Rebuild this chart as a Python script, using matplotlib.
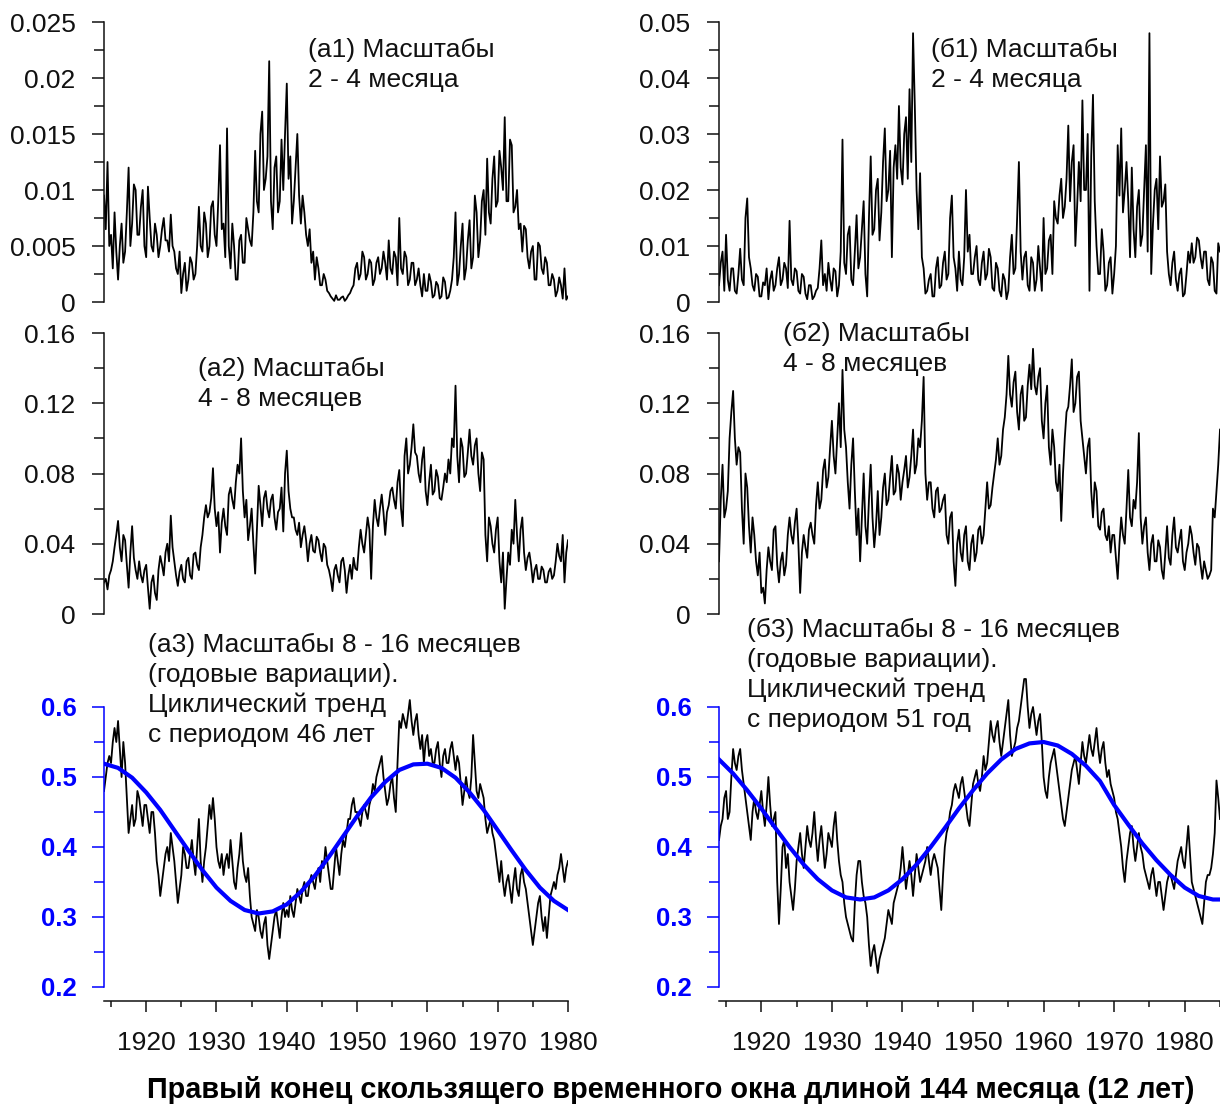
import numpy as np
import matplotlib
matplotlib.use('Agg')
import matplotlib.pyplot as plt
from matplotlib.ticker import MultipleLocator, FixedLocator, FuncFormatter

plt.rcParams['font.family'] = ['Liberation Sans', 'DejaVu Sans']

# quarter-year readings; left column 1914-1980, right column 1914-1985
# (а1), (б1), (а2), (б2) are in units of 1e-3
a1 = [9.5, 6.5, 12.5, 5, 6, 3, 8, 4.5, 2, 5, 7, 3.5,
      4.5, 8, 12, 5, 7, 10.5, 10, 6, 6, 8.5, 10, 5,
      4, 10.3, 7.5, 5, 4.5, 7, 6, 4, 5, 6.5, 7.5, 5.5,
      5.5, 4.5, 7.8, 5, 4.5, 3, 2.5, 4.5, 0.8, 2.5, 3.5, 1,
      2, 4, 3.5, 2, 2.5, 5, 8.5, 5, 4.5, 8, 7, 4,
      5, 8.5, 9, 6, 5, 9, 14, 6.5, 7, 4, 15.5, 5,
      3, 7, 5, 2, 2, 5.5, 6, 3.5, 3.5, 7.5, 6.5, 5.5,
      5, 8, 13.5, 9, 8, 15, 17, 10, 11, 13, 21.5, 9,
      6.5, 12, 13, 8, 9, 14.5, 10, 15, 19.5, 11, 13, 7,
      9, 12, 15, 9.5, 7, 9.5, 8, 6, 5, 6.5, 3.5, 4.5,
      2, 4, 3, 1.5, 1.5, 2.5, 2, 1, 0.8, 0.5, 0.3, 0.1,
      0.6, 0.2, 0.2, 0.4, 0.5, 0.1, 0.3, 0.6, 0.8, 1.2, 1.5, 3,
      3.5, 2, 2.5, 4.5, 4, 2, 2.5, 3.8, 3.5, 1.5, 2, 3.5,
      4, 2.5, 3, 4.5, 3.5, 2, 5.5, 3, 2.5, 4.5, 4, 1.5,
      7.5, 3, 2.5, 4.5, 4, 1.5, 2, 3.5, 3.5, 1.5, 2, 3,
      1.5, 0.5, 2.5, 1, 1, 2.5, 1.8, 0.4, 0.6, 1.8, 1.5, 0.3,
      0.5, 2.2, 1.8, 0.3, 0.4, 1, 2, 4, 8, 1.5, 2.5, 5,
      7, 2, 3, 5.5, 7.3, 3, 4, 9.5, 8, 4, 5.5, 9,
      10, 6, 12.8, 8, 7, 11, 13, 8.5, 9, 13.5, 12, 10,
      16.5, 9, 9, 14.5, 14, 8, 8.5, 10, 6.5, 7, 4.5, 6.8,
      6.5, 4, 3, 4.5, 5, 2, 2, 5.3, 5, 3, 2.5, 4,
      3.5, 1.5, 1.5, 2.5, 2, 0.5, 1, 2.2, 1.5, 0.3, 3, 0.2,
      0.5]

b1 = [3, 7, 9, 2, 12, 4, 2, 6, 6, 2, 1.5, 5,
      9.5, 4, 3, 15, 18.5, 8, 6, 3, 2, 5, 4.5, 1,
      1, 3.5, 3, 6, 0.5, 4, 5.5, 2, 3, 6, 8, 3,
      4, 7, 6, 2.5, 14.5, 4, 3, 6, 5.5, 2, 1.5, 5,
      4.5, 1.5, 0.5, 3, 3, 0.5, 1, 2, 2.5, 6, 11, 3,
      5, 2, 7, 4, 2, 6, 5.5, 1, 3, 9, 29, 7,
      5, 12, 13.5, 4, 3, 9, 15.5, 6, 8, 13, 18, 5,
      1, 15, 26, 12, 13, 20, 22, 11, 16, 25, 31, 18,
      20, 27, 8, 24, 28, 22, 35, 24, 21, 30, 33, 22,
      38, 25, 48, 35, 20, 13, 23, 8, 6, 1.5, 2, 4,
      5, 1, 1, 6, 8, 2.5, 3, 7, 9, 4, 5, 15,
      19, 8, 6, 2, 9, 4, 3, 8, 20, 9, 12, 5,
      5, 8, 10, 4, 3, 7, 9, 4, 5, 9.5, 8, 2.5,
      2, 7, 6, 2, 1, 5, 4, 0.5, 2, 8, 12, 5,
      6, 15, 25, 9, 4, 8, 9, 3, 2, 8, 7, 2,
      4, 10, 6, 2, 15, 5, 6, 11, 12, 5, 18, 15,
      14, 19, 22, 15, 17, 22, 31.5, 18, 25, 28, 10, 17,
      25, 18, 36, 20, 20, 30, 2, 26, 37, 18, 10, 5,
      5, 13, 9, 2, 3, 7, 8, 1.5, 5, 10, 28, 19,
      31, 16, 20, 25, 18, 8, 24, 13, 8, 17, 20, 10,
      12, 20, 28, 9, 48, 5, 14, 20, 22, 13, 26, 17,
      18, 21, 9, 5, 3, 7, 9, 4, 2, 5, 6, 1,
      1.5, 5, 9, 7, 10.5, 7, 8, 11.5, 11, 8, 6, 9,
      9, 4, 3, 8, 7, 2, 1.5, 10.5, 9]

a2 = [18, 20, 14, 22, 25, 30, 38, 45, 53, 38, 30, 45,
      42, 28, 15, 35, 50, 32, 25, 20, 30, 22, 18, 25,
      28, 15, 3, 18, 22, 12, 8, 25, 33, 28, 22, 35,
      40, 30, 56, 38, 30, 22, 16, 24, 28, 20, 18, 30,
      32, 22, 20, 34, 35, 28, 25, 38, 45, 55, 62, 55,
      58, 66, 83, 60, 50, 58, 35, 52, 60, 50, 45, 68,
      72, 65, 60, 75, 85, 80, 100, 70, 55, 65, 42, 50,
      60, 40, 23, 48, 73, 62, 50, 66, 70, 60, 55, 65,
      68, 55, 48, 58, 60, 72, 47, 80, 93, 70, 60, 55,
      55, 48, 45, 52, 38, 45, 50, 42, 30, 40, 45, 36,
      35, 44, 42, 35, 30, 40, 38, 28, 25, 20, 13, 25,
      28, 22, 18, 30, 32, 25, 12, 22, 28, 20, 32, 26,
      25, 38, 48, 40, 35, 45, 55, 48, 20, 50, 65, 55,
      50, 60, 68, 58, 45, 58, 62, 70, 72, 65, 60, 75,
      82, 60, 50, 90, 100, 80, 85, 95, 108, 92, 90, 80,
      75, 88, 95, 70, 62, 75, 85, 68, 70, 82, 78, 66,
      65, 72, 80, 75, 88, 80, 100, 95, 130, 90, 75, 100,
      95, 78, 80, 92, 105, 90, 85, 96, 100, 80, 70, 92,
      88, 45, 30, 55, 50, 40, 35, 48, 55, 30, 18, 35,
      3, 20, 35, 28, 48, 40, 65, 45, 30, 48, 55, 35,
      25, 32, 35, 28, 18, 25, 28, 20, 20, 27, 25, 18,
      18, 24, 26, 20, 22, 30, 40, 33, 30, 45, 18, 35,
      42]

b2 = [30, 65, 85, 55, 60, 70, 100, 115, 127, 100, 85, 95,
      92, 60, 40, 80, 72, 50, 35, 55, 45, 30, 22, 35,
      12, 15, 6, 25, 38, 30, 25, 48, 50, 28, 18, 30,
      35, 22, 28, 45, 55, 45, 40, 52, 60, 40, 12, 35,
      45, 38, 32, 48, 52, 45, 40, 62, 75, 60, 65, 82,
      88, 72, 78, 95, 110, 90, 80, 100, 120, 95, 139, 105,
      95, 75, 60, 85, 100, 70, 45, 60, 30, 55, 80, 50,
      40, 65, 85, 55, 38, 50, 70, 45, 55, 72, 80, 62,
      65, 78, 90, 68, 70, 85, 80, 65, 75, 82, 90, 72,
      78, 90, 105, 80, 85, 100, 95, 110, 135, 80, 65, 75,
      75, 60, 55, 70, 72, 58, 60, 65, 68, 45, 40, 55,
      58, 30, 16, 40, 48, 35, 30, 45, 50, 30, 25, 40,
      45, 30, 35, 48, 50, 40, 45, 60, 75, 60, 62, 72,
      80, 88, 100, 85, 90, 105, 112, 125, 147, 125, 118, 132,
      138, 115, 105, 125, 130, 110, 112, 130, 142, 128, 151, 130,
      125, 135, 140, 110, 100, 120, 130, 95, 85, 105, 95, 75,
      70, 85, 53, 80, 100, 115, 118, 130, 145, 115, 120, 135,
      138, 110, 100, 90, 80, 95, 100, 70, 55, 75, 70, 50,
      48, 58, 60, 45, 42, 50, 35, 45, 45, 32, 20, 40,
      55, 45, 40, 60, 82, 55, 50, 65, 60, 75, 103, 55,
      40, 50, 55, 35, 25, 40, 45, 30, 30, 42, 38, 25,
      20, 35, 50, 32, 28, 45, 55, 38, 35, 42, 48, 30,
      25, 35, 40, 50, 45, 35, 28, 40, 38, 28, 20, 30,
      25, 20, 22, 25, 60, 55, 70, 85, 105]

a3 = [0.48, 0.50, 0.52, 0.53, 0.52, 0.55, 0.57, 0.55, 0.58, 0.54, 0.50, 0.55,
      0.52, 0.47, 0.42, 0.44, 0.46, 0.43, 0.44, 0.48, 0.47, 0.45, 0.43, 0.46,
      0.46, 0.44, 0.42, 0.45, 0.45, 0.42, 0.38, 0.36, 0.33, 0.35, 0.37, 0.39,
      0.40, 0.38, 0.42, 0.40, 0.38, 0.35, 0.32, 0.34, 0.36, 0.40, 0.39, 0.37,
      0.37, 0.39, 0.41, 0.38, 0.36, 0.40, 0.44, 0.38, 0.35, 0.38, 0.40, 0.43,
      0.46, 0.44, 0.47, 0.44, 0.40, 0.38, 0.37, 0.39, 0.36, 0.38, 0.39, 0.37,
      0.41, 0.38, 0.35, 0.34, 0.37, 0.39, 0.42, 0.38, 0.36, 0.35, 0.37, 0.33,
      0.30, 0.29, 0.28, 0.31, 0.30, 0.28, 0.27, 0.29, 0.30, 0.26, 0.24, 0.26,
      0.28, 0.30, 0.31, 0.29, 0.27, 0.30, 0.32, 0.30, 0.31, 0.30, 0.33, 0.31,
      0.30, 0.32, 0.34, 0.33, 0.32, 0.34, 0.35, 0.33, 0.33, 0.35, 0.36, 0.35,
      0.34, 0.36, 0.37, 0.35, 0.38, 0.37, 0.40, 0.38, 0.36, 0.34, 0.34, 0.37,
      0.40, 0.38, 0.36, 0.39, 0.41, 0.40, 0.42, 0.44, 0.44, 0.46, 0.47, 0.45,
      0.45, 0.44, 0.43, 0.45, 0.46, 0.45, 0.44, 0.46, 0.47, 0.49, 0.48, 0.50,
      0.51, 0.52, 0.53, 0.50, 0.48, 0.46, 0.47, 0.49, 0.50, 0.47, 0.45, 0.52,
      0.58, 0.57, 0.59, 0.58, 0.57, 0.59, 0.61, 0.58, 0.56, 0.58, 0.59, 0.56,
      0.54, 0.56, 0.52, 0.55, 0.56, 0.53, 0.54, 0.52, 0.52, 0.54, 0.55, 0.52,
      0.50, 0.53, 0.54, 0.52, 0.52, 0.54, 0.55, 0.53, 0.51, 0.53, 0.52, 0.49,
      0.46, 0.48, 0.50, 0.48, 0.47, 0.50, 0.56, 0.52, 0.48, 0.47, 0.49, 0.48,
      0.47, 0.44, 0.42, 0.43, 0.44, 0.42, 0.41, 0.39, 0.37, 0.35, 0.38, 0.35,
      0.33, 0.35, 0.36, 0.34, 0.32, 0.35, 0.37, 0.34, 0.33, 0.36, 0.37, 0.35,
      0.34, 0.32, 0.30, 0.28, 0.26, 0.28, 0.30, 0.32, 0.33, 0.30, 0.28, 0.30,
      0.27, 0.30, 0.33, 0.34, 0.35, 0.34, 0.36, 0.37, 0.39, 0.37, 0.35, 0.37,
      0.38]

b3 = [0.41, 0.43, 0.44, 0.47, 0.48, 0.44, 0.45, 0.50, 0.54, 0.52, 0.51, 0.53,
      0.54, 0.51, 0.49, 0.47, 0.45, 0.43, 0.41, 0.45, 0.47, 0.45, 0.44, 0.46,
      0.48, 0.45, 0.43, 0.46, 0.50, 0.46, 0.43, 0.44, 0.45, 0.35, 0.29, 0.34,
      0.40, 0.41, 0.37, 0.39, 0.35, 0.33, 0.31, 0.34, 0.38, 0.40, 0.42, 0.39,
      0.37, 0.40, 0.43, 0.41, 0.40, 0.42, 0.45, 0.41, 0.38, 0.41, 0.43, 0.40,
      0.37, 0.39, 0.42, 0.41, 0.40, 0.43, 0.45, 0.41, 0.38, 0.36, 0.35, 0.32,
      0.30, 0.29, 0.28, 0.27, 0.265, 0.32, 0.36, 0.38, 0.38, 0.35, 0.33, 0.32,
      0.30, 0.26, 0.23, 0.25, 0.26, 0.24, 0.22, 0.24, 0.25, 0.26, 0.27, 0.29,
      0.31, 0.30, 0.29, 0.32, 0.33, 0.34, 0.35, 0.37, 0.40, 0.37, 0.34, 0.36,
      0.38, 0.36, 0.33, 0.36, 0.39, 0.37, 0.35, 0.36, 0.37, 0.38, 0.40, 0.38,
      0.36, 0.38, 0.39, 0.38, 0.37, 0.34, 0.31, 0.36, 0.40, 0.42, 0.43, 0.45,
      0.46, 0.48, 0.49, 0.48, 0.47, 0.49, 0.50, 0.48, 0.46, 0.44, 0.43, 0.46,
      0.49, 0.50, 0.51, 0.49, 0.48, 0.50, 0.53, 0.51, 0.52, 0.55, 0.58, 0.56,
      0.55, 0.57, 0.58, 0.55, 0.53, 0.55, 0.57, 0.59, 0.61, 0.56, 0.53, 0.54,
      0.55, 0.57, 0.58, 0.60, 0.62, 0.64, 0.64, 0.60, 0.57, 0.59, 0.60, 0.58,
      0.56, 0.58, 0.59, 0.55, 0.50, 0.48, 0.47, 0.50, 0.52, 0.53, 0.54, 0.52,
      0.50, 0.48, 0.46, 0.44, 0.43, 0.45, 0.47, 0.49, 0.51, 0.52, 0.53, 0.51,
      0.49, 0.52, 0.55, 0.53, 0.52, 0.54, 0.56, 0.54, 0.53, 0.55, 0.57, 0.54,
      0.52, 0.54, 0.55, 0.52, 0.50, 0.51, 0.49, 0.48, 0.47, 0.45, 0.44, 0.42,
      0.40, 0.37, 0.35, 0.38, 0.40, 0.42, 0.43, 0.40, 0.38, 0.40, 0.42, 0.40,
      0.39, 0.37, 0.36, 0.35, 0.34, 0.36, 0.37, 0.35, 0.33, 0.35, 0.35, 0.33,
      0.31, 0.33, 0.35, 0.36, 0.36, 0.35, 0.34, 0.36, 0.38, 0.39, 0.40, 0.38,
      0.37, 0.40, 0.43, 0.39, 0.35, 0.34, 0.33, 0.32, 0.31, 0.30, 0.29, 0.32,
      0.35, 0.36, 0.36, 0.37, 0.39, 0.42, 0.495, 0.47, 0.44]

# cyclic trends, every 2 years (right one ends with 1985)
trend_a = [0.519, 0.513, 0.499, 0.478, 0.453, 0.424, 0.395, 0.367, 0.342, 0.323, 0.310,
           0.305, 0.308, 0.318, 0.336, 0.359, 0.386, 0.415, 0.444, 0.471, 0.493, 0.510,
           0.518, 0.519, 0.513, 0.499, 0.478, 0.453, 0.424, 0.395, 0.367, 0.342, 0.323, 0.310]
trend_b = [0.525, 0.505, 0.481, 0.455, 0.427, 0.400, 0.375, 0.354, 0.338, 0.328, 0.325,
           0.328, 0.338, 0.354, 0.375, 0.400, 0.427, 0.455, 0.481, 0.505, 0.525, 0.540,
           0.548, 0.550, 0.545, 0.533, 0.516, 0.494, 0.460, 0.432, 0.405, 0.381, 0.360,
           0.342, 0.330, 0.325, 0.325]

trend_a_years = np.arange(1914, 1981, 2)
trend_b_years = np.append(np.arange(1914, 1985, 2), 1985)

labels = {
    'a1': '(а1) Масштабы\n2 - 4 месяца',
    'b1': '(б1) Масштабы\n2 - 4 месяца',
    'a2': '(а2) Масштабы\n4 - 8 месяцев',
    'b2': '(б2) Масштабы\n4 - 8 месяцев',
    'a3': '(а3) Масштабы 8 - 16 месяцев\n(годовые вариации).\nЦиклический тренд\nс периодом 46 лет',
    'b3': '(б3) Масштабы 8 - 16 месяцев\n(годовые вариации).\nЦиклический тренд\nс периодом 51 год',
}
xlabel = 'Правый конец скользящего временного окна длиной 144 месяца (12 лет)'

W, H = 1220, 1108
fig = plt.figure(figsize=(W / 100, H / 100), dpi=100)
TXT = '#111111'
LW_SERIES = 1.3
fmt = FuncFormatter(lambda v, p: '{:g}'.format(round(v, 6)))


def years(vals, end):
    return np.linspace(1914, end, len(vals))


def panel(rect, xlim, ylim, major, minor, blue=False):
    ax = fig.add_axes(rect)
    ax.set_xlim(*xlim)
    ax.set_ylim(*ylim)
    ax.patch.set_alpha(0)
    for s in ['top', 'right', 'bottom']:
        ax.spines[s].set_visible(False)
    col = '#0000ff' if blue else TXT
    ax.spines['left'].set_color(col)
    ax.spines['left'].set_linewidth(1.1)
    ax.yaxis.set_major_locator(MultipleLocator(major))
    ax.yaxis.set_minor_locator(MultipleLocator(minor))
    ax.yaxis.set_major_formatter(fmt)
    ax.tick_params(axis='y', which='major', length=8.5, width=1.1, pad=12,
                   labelsize=19, color=col, labelcolor=col)
    ax.tick_params(axis='y', which='minor', length=7, width=1.1, color=col)
    ax.set_xticks([])
    return ax


def bottom_axis(ax):
    ax.spines['bottom'].set_visible(True)
    ax.spines['bottom'].set_position(('outward', 10))
    ax.spines['bottom'].set_linewidth(1.1)
    ax.spines['bottom'].set_color(TXT)
    ax.spines['left'].set_bounds(0.2, 0.6)
    ax.yaxis.set_major_locator(FixedLocator([0.2, 0.3, 0.4, 0.5, 0.6]))
    ax.yaxis.set_minor_locator(FixedLocator([0.25, 0.35, 0.45, 0.55]))
    ax.xaxis.set_major_locator(MultipleLocator(10))
    ax.xaxis.set_minor_locator(MultipleLocator(5))
    ax.tick_params(axis='x', which='major', length=8, width=1.1, pad=14,
                   labelsize=19, color=TXT, labelcolor=TXT)
    ax.tick_params(axis='x', which='minor', length=4.5, width=1.1, color=TXT)
    ax.tick_params(axis='y', which='major', pad=11)
    plt.setp(ax.get_yticklabels(), fontweight='bold', fontsize=18.5)


LX, LW = 104 / W, 464 / W
RX, RW = 719 / W, 501 / W
row1 = (1 - 302 / H, 280 / H)
row2 = (1 - 614 / H, 281 / H)
row3 = (1 - 987 / H, 322 / H)

ax = panel([LX, row1[0], LW, row1[1]], (1914, 1980), (0, 0.025), 0.005, 0.0025)
ax.plot(years(a1, 1980), np.array(a1) / 1000, color='black', lw=LW_SERIES)

ax = panel([RX, row1[0], RW, row1[1]], (1914, 1985), (0, 0.05), 0.01, 0.005)
ax.plot(years(b1, 1985), np.array(b1) / 1000, color='black', lw=LW_SERIES)

ax = panel([LX, row2[0], LW, row2[1]], (1914, 1980), (0, 0.16), 0.04, 0.02)
ax.plot(years(a2, 1980), np.array(a2) / 1000, color='black', lw=LW_SERIES)

ax = panel([RX, row2[0], RW, row2[1]], (1914, 1985), (0, 0.16), 0.04, 0.02)
ax.plot(years(b2, 1985), np.array(b2) / 1000, color='black', lw=LW_SERIES)

ax = panel([LX, row3[0], LW, row3[1]], (1914, 1980), (0.2, 0.66), 0.1, 0.05, blue=True)
ax.plot(years(a3, 1980), a3, color='black', lw=LW_SERIES)
ax.plot(trend_a_years, trend_a, color='#0000ff', lw=3.0)
bottom_axis(ax)

ax = panel([RX, row3[0], RW, row3[1]], (1914, 1985), (0.2, 0.66), 0.1, 0.05, blue=True)
ax.plot(years(b3, 1985), b3, color='black', lw=LW_SERIES)
ax.plot(trend_b_years, trend_b, color='#0000ff', lw=3.0)
bottom_axis(ax)

# panel captions, positions in pixels of the original picture
for key, px, py in [('a1', 308, 38), ('b1', 931, 38), ('a2', 198, 357),
                    ('b2', 783, 322), ('a3', 148, 633), ('b3', 747, 618)]:
    fig.text(px / W, 1 - py / H, labels[key], fontsize=19, color=TXT,
             va='top', ha='left', linespacing=1.3)

fig.text(671 / W, 1 - 1090 / H, xlabel, fontsize=20.8, fontweight='bold',
         color='black', ha='center', va='center')

fig.savefig('out.png', dpi=100)
